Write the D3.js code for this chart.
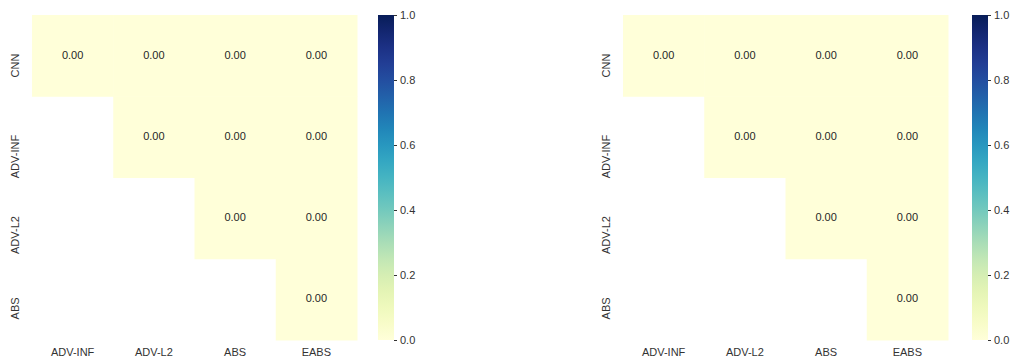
<!DOCTYPE html>
<html>
<head>
<meta charset="utf-8">
<script src="https://cdn.jsdelivr.net/npm/d3@7"></script>
<style>
  body { margin: 0; background: #fff; }
  svg text { font-family: "Liberation Sans", Arial, sans-serif; fill: #333; }
</style>
</head>
<body>
<svg id="chart" width="1011" height="360"></svg>
<script>
const rowLabels = ["CNN", "ADV-INF", "ADV-L2", "ABS"]
const colLabels = ["ADV-INF", "ADV-L2", "ABS", "EABS"]

// null = masked cell (lower triangle)
const valuesLeft = [
    [0.00, 0.00, 0.00, 0.00],
    [null, 0.00, 0.00, 0.00],
    [null, null, 0.00, 0.00],
    [null, null, null, 0.00]
]
const valuesRight = [
    [0.00, 0.00, 0.00, 0.00],
    [null, 0.00, 0.00, 0.00],
    [null, null, 0.00, 0.00],
    [null, null, null, 0.00]
]
const barTicks = [0.0, 0.2, 0.4, 0.6, 0.8, 1.0]

const svg = d3.select("#chart")
const color = d3.scaleSequential(d3.interpolateYlGnBu).domain([0, 1])

// gradient for colorbars
const grad = svg.append("defs").append("linearGradient")
    .attr("id", "cbar").attr("x1", 0).attr("y1", 1).attr("x2", 0).attr("y2", 0)
d3.range(0, 1.0001, 0.05).forEach(t => {
    grad.append("stop").attr("offset", t).attr("stop-color", color(t))
})

function drawPanel(values, left, barLeft) {
    const g = svg.append("g")
    const x = d3.scaleBand().domain(colLabels).range([left, left + 325])
    const y = d3.scaleBand().domain(rowLabels).range([15, 340])

    const cells = []
    values.forEach((row, i) => row.forEach((v, j) => {
        if (v !== null) cells.push({r: rowLabels[i], c: colLabels[j], v: v})
    }))

    g.selectAll("rect.cell").data(cells).enter().append("rect")
        .attr("class", "cell")
        .attr("x", d => x(d.c))
        .attr("y", d => y(d.r))
        .attr("width", x.bandwidth() + 0.5)
        .attr("height", y.bandwidth() + 0.5)
        .attr("fill", d => color(d.v))

    g.selectAll("text.annot").data(cells).enter().append("text")
        .attr("class", "annot")
        .attr("x", d => x(d.c) + x.bandwidth() / 2)
        .attr("y", d => y(d.r) + y.bandwidth() / 2 - 1)
        .attr("text-anchor", "middle")
        .attr("dominant-baseline", "central")
        .style("font-size", "11px")
        .style("fill", "#262626")
        .text(d => d3.format(".2f")(d.v))

    // x labels
    g.selectAll("text.xl").data(colLabels).enter().append("text")
        .attr("class", "xl")
        .attr("x", d => x(d) + x.bandwidth() / 2)
        .attr("y", 356)
        .attr("text-anchor", "middle")
        .style("font-size", "11px")
        .text(d => d)

    // y labels, rotated
    g.selectAll("text.yl").data(rowLabels).enter().append("text")
        .attr("class", "yl")
        .attr("transform", d => `translate(${left - 13},${y(d) + y.bandwidth() / 2 - 2}) rotate(-90)`)
        .attr("text-anchor", "end")
        .style("font-size", "11px")
        .text(d => d)

    // colorbar
    const yb = d3.scaleLinear().domain([0, 1]).range([340, 15])
    g.append("rect")
        .attr("x", barLeft).attr("y", yb(1))
        .attr("width", 16).attr("height", yb(0) - yb(1))
        .attr("fill", "url(#cbar)")
    const axis = g.append("g")
        .attr("transform", `translate(${barLeft + 16},0)`)
        .call(d3.axisRight(yb).tickValues(barTicks).tickFormat(d3.format(".1f")).tickSize(3).tickPadding(3))
    axis.select(".domain").remove()
    axis.selectAll("line").attr("stroke", "#333")
    axis.selectAll("text").style("font-size", "11px").style("font-family", "Liberation Sans, Arial, sans-serif").attr("fill", "#333")
}

drawPanel(valuesLeft, 32, 378)
drawPanel(valuesRight, 623, 972)
</script>
</body>
</html>
